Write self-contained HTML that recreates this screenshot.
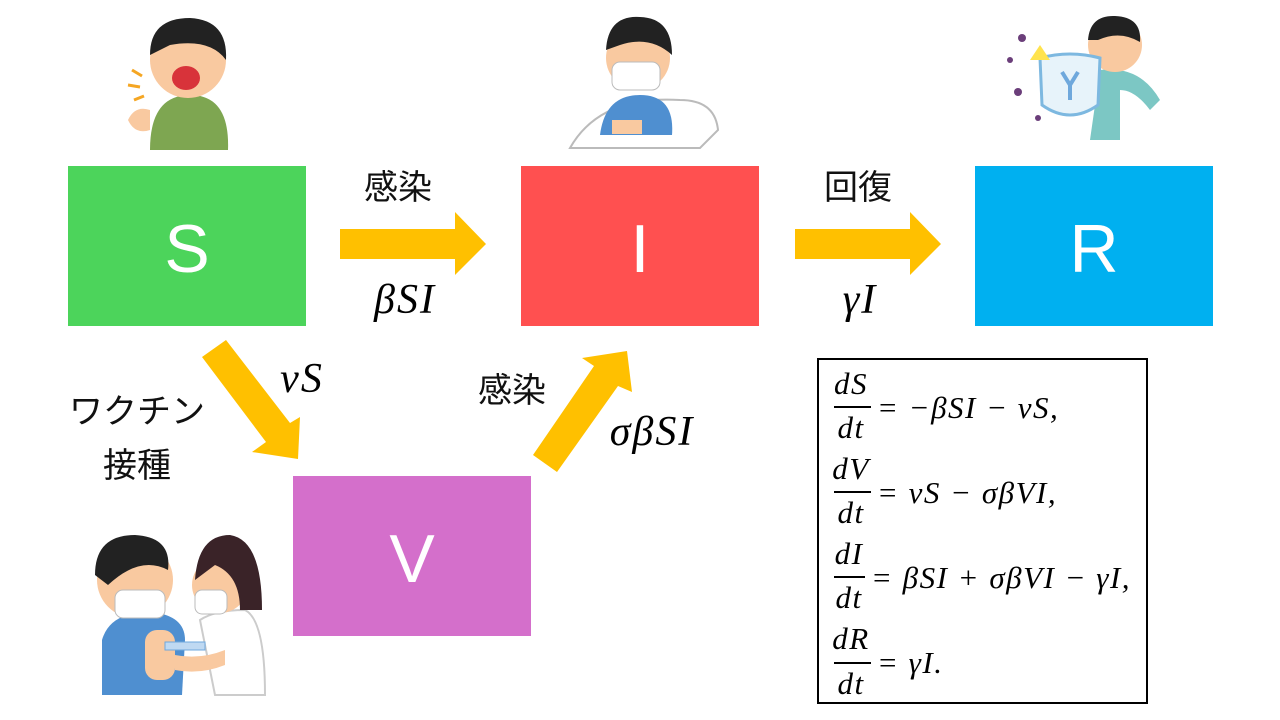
<!DOCTYPE html>
<html><head><meta charset="utf-8"><style>
html,body{margin:0;padding:0;background:#fff;width:1280px;height:720px;overflow:hidden}
svg{display:block}
.jp{font-family:"Liberation Sans","Noto Sans CJK JP",sans-serif;font-size:34px;fill:#111}
.m{font-family:"Liberation Serif","DejaVu Serif",serif;font-style:italic;fill:#000}
.bl{font-family:"Liberation Sans","DejaVu Sans",sans-serif;font-size:68px;fill:#fff;font-weight:300}
</style></head><body>
<svg width="1280" height="720" viewBox="0 0 1280 720">
<rect x="68" y="166" width="238" height="160" fill="#4CD45B"/>
<rect x="521" y="166" width="238" height="160" fill="#FF5050"/>
<rect x="975" y="166" width="238" height="160" fill="#00B0F0"/>
<rect x="293" y="476" width="238" height="160" fill="#D46FCB"/>
<text class="bl" x="187" y="272" text-anchor="middle">S</text>
<text class="bl" x="640" y="272" text-anchor="middle">I</text>
<text class="bl" x="1094" y="272" text-anchor="middle">R</text>
<text class="bl" x="412" y="582" text-anchor="middle">V</text>
<g fill="#FFC000">
<polygon points="340,229 455,229 455,212 486,244 455,275 455,259 340,259"/>
<polygon points="795,229 910,229 910,212 941,244 910,275 910,259 795,259"/>
<polygon points="202,357 226,340 290,423 300,417 298,459 252,452 266,442"/>
<polygon points="533,455 557,472 618,386 632,392 627,351 582,358 594,366"/>
</g>
<text class="jp" x="398" y="199" text-anchor="middle">感染</text>
<text class="jp" x="858" y="199" text-anchor="middle">回復</text>
<text class="jp" x="512" y="402" text-anchor="middle">感染</text>
<text class="jp" x="137" y="423" text-anchor="middle">ワクチン</text>
<text class="jp" x="137" y="477" text-anchor="middle">接種</text>
<text class="m" x="405" y="313" font-size="42" letter-spacing="2" text-anchor="middle">βSI</text>
<text class="m" x="860" y="313" font-size="42" letter-spacing="2" text-anchor="middle">γI</text>
<text class="m" x="302" y="392" font-size="42" letter-spacing="2" text-anchor="middle">vS</text>
<text class="m" x="652" y="445" font-size="42" letter-spacing="2" text-anchor="middle">σβSI</text>
<rect x="818" y="359" width="329" height="344" fill="#fff" stroke="#000" stroke-width="2"/>
<g class="m" font-size="31" letter-spacing="1.5">
<text x="851" y="394" text-anchor="middle">dS</text><line x1="834" y1="407" x2="871" y2="407" stroke="#000" stroke-width="2"/><text x="851" y="438" text-anchor="middle">dt</text>
<text x="877" y="418">= −βSI − vS,</text>
<text x="851" y="479" text-anchor="middle">dV</text><line x1="834" y1="492" x2="871" y2="492" stroke="#000" stroke-width="2"/><text x="851" y="523" text-anchor="middle">dt</text>
<text x="877" y="503">= vS − σβVI,</text>
<text x="849" y="564" text-anchor="middle">dI</text><line x1="834" y1="577" x2="865" y2="577" stroke="#000" stroke-width="2"/><text x="849" y="608" text-anchor="middle">dt</text>
<text x="871" y="588">= βSI + σβVI − γI,</text>
<text x="851" y="649" text-anchor="middle">dR</text><line x1="834" y1="663" x2="871" y2="663" stroke="#000" stroke-width="2"/><text x="851" y="694" text-anchor="middle">dt</text>
<text x="877" y="673">= γI.</text>
</g>
<g>
<path d="M150,150 Q150,95 190,95 Q230,95 228,150 Z" fill="#7EA651"/>
<circle cx="188" cy="60" r="38" fill="#F9C9A0"/>
<path d="M150,55 Q150,18 190,18 Q228,20 226,60 Q210,38 170,45 Z" fill="#222"/>
<ellipse cx="186" cy="78" rx="14" ry="12" fill="#D8333A"/>
<path d="M128,120 Q135,105 150,110 L150,130 Q135,135 128,120Z" fill="#F9C9A0"/>
<g stroke="#F5A623" stroke-width="3"><line x1="132" y1="70" x2="142" y2="76"/><line x1="128" y1="85" x2="140" y2="87"/><line x1="134" y1="100" x2="144" y2="96"/></g>
</g>
<g>
<path d="M570,148 Q600,95 680,100 Q715,100 718,130 L700,148 Z" fill="#fff" stroke="#bbb" stroke-width="2"/>
<path d="M600,135 Q605,95 640,95 Q675,95 672,135 Z" fill="#4F8FD0"/>
<circle cx="638" cy="58" r="32" fill="#F9C9A0"/>
<path d="M606,50 Q608,15 640,17 Q672,18 672,55 Q650,35 620,45Z" fill="#222"/>
<rect x="612" y="62" width="48" height="28" rx="8" fill="#fff" stroke="#bbb"/>
<rect x="612" y="120" width="30" height="14" fill="#F9C9A0"/>
</g>
<g>
<path d="M1100,70 Q1140,65 1160,100 L1150,110 Q1135,90 1120,90 L1120,140 L1090,140 Z" fill="#7CC7C4"/>
<circle cx="1115" cy="45" r="27" fill="#F9C9A0"/>
<path d="M1088,40 Q1090,15 1115,16 Q1142,17 1140,42 Q1120,30 1098,40Z" fill="#222"/>
<path d="M1040,58 Q1070,50 1100,58 L1098,105 Q1070,125 1042,105 Z" fill="#E7F3FA" stroke="#7DB8E0" stroke-width="3"/>
<path d="M1062,72 L1070,85 L1078,72 M1070,85 L1070,100" stroke="#6FA8DC" stroke-width="4" fill="none"/>
<path d="M1030,60 L1040,45 L1050,60 Z" fill="#FFE34D"/>
<g fill="#6B3E7A"><circle cx="1022" cy="38" r="4"/><circle cx="1010" cy="60" r="3"/><circle cx="1018" cy="92" r="4"/><circle cx="1038" cy="118" r="3"/></g>
</g>
<g>
<path d="M102,695 L102,640 Q110,612 150,612 Q185,615 185,640 L182,695 Z" fill="#4F8FD0"/>
<circle cx="135" cy="580" r="38" fill="#F9C9A0"/>
<path d="M95,575 Q95,535 135,535 Q172,537 168,570 Q140,555 108,585Z" fill="#222"/>
<rect x="115" y="590" width="50" height="28" rx="8" fill="#fff" stroke="#bbb"/>
<path d="M200,620 Q215,610 245,610 Q265,620 265,695 L215,695 Z" fill="#fff" stroke="#ccc" stroke-width="2"/>
<circle cx="220" cy="585" r="28" fill="#F9C9A0"/>
<path d="M195,580 Q198,535 230,535 Q262,540 262,610 L240,610 Q240,575 215,565 Z" fill="#3A2328"/>
<rect x="195" y="590" width="32" height="24" rx="7" fill="#fff" stroke="#bbb"/>
<rect x="145" y="630" width="30" height="50" rx="12" fill="#F9C9A0"/>
<rect x="165" y="642" width="40" height="8" fill="#BFD9F2" stroke="#6FA8DC"/>
<path d="M175,655 Q200,660 225,650 L225,665 Q200,675 175,670Z" fill="#F9C9A0"/>
</g>
</svg>
</body></html>
